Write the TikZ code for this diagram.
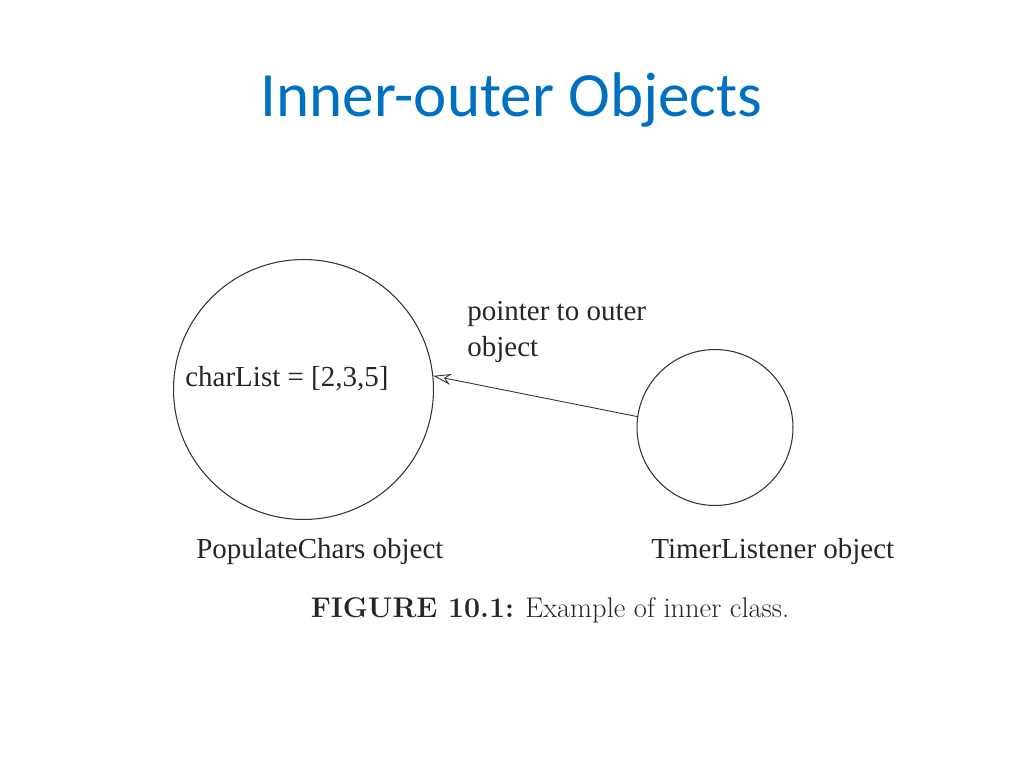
\documentclass[tikz,border=0pt]{standalone}
\usepackage{fontspec}
\usepackage{tikz}
\usetikzlibrary{arrows.meta}
\newfontfamily\titlefont{Carlito}
\newfontfamily\figfont{Liberation Serif}
\definecolor{slideblue}{RGB}{0,112,192}
\tikzset{lbl/.style={anchor=base west,inner sep=0pt,text=black!85,font=\figfont\fontsize{16.5}{21}\selectfont}}

\begin{document}
\begin{tikzpicture}[x=0.02cm,y=0.02cm]
\useasboundingbox (0,0) rectangle (1024,768);
\node[anchor=base,inner sep=0pt,text=slideblue,font=\titlefont\fontsize{35.9}{40}\selectfont] (title) at(511.5,651) {Inner-outer Objects};
\node[draw=black!80,circle,line width=0.6pt,minimum size=5.2cm,inner sep=0pt] (pop) at(303.5,378.5){};
\node[draw=black!80,circle,line width=0.6pt,minimum size=3.12cm,inner sep=0pt] (timer) at(715,340.5){};
\node[lbl] (charlist) at(185,381) {charList = [2,3,5]};
\node[lbl,align=left] (ptr) at(467,411) {pointer to outer\\object};
\draw[-{Stealth[length=3.6mm,width=2.2mm,open]},line width=0.5pt,black!80] (timer.172) -- (pop.6);
\node[lbl] (poplbl) at(196,210) {PopulateChars object};
\node[lbl] (timerlbl) at(651,210) {TimerListener object};
\node[anchor=base,inner sep=0pt,text=black!85,font=\fontsize{16.2}{19}\selectfont] (caption) at(550,151) {\textbf{FIGURE 10.1:} Example of inner class.};
\end{tikzpicture}
\end{document}
